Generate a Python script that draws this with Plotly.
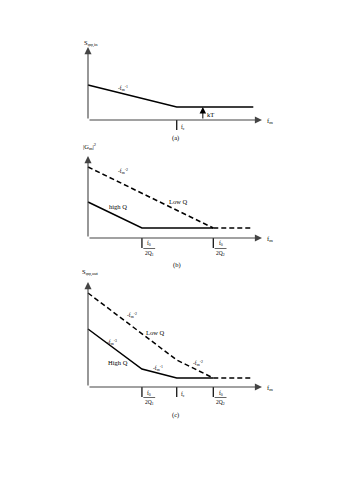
import plotly.graph_objects as go

# ---- data (x: frequency position in arbitrary units, axis 0..100; y: level in arbitrary units) ----
# panel (a): S_phiphi,in
a_x = [0, 51, 95]
a_y = [35, 13, 13]
a_kT_x = 66
a_fc = 51

# panel (b): |G_m|^2
b_low_x = [0, 72]
b_low_y = [71, 10]
b_low_flat_x = [72, 95]
b_low_flat_y = [10, 10]
b_high_x = [0, 31, 72]
b_high_y = [36, 10, 10]
b_ticks = [31, 72]

# panel (c): S_phiphi,out
c_low_x = [0, 51, 72]
c_low_y = [94, 27, 9]
c_low_flat_x = [72, 95]
c_low_flat_y = [9, 9]
c_high_x = [0, 31, 51, 72]
c_high_y = [58, 18, 9, 9]
c_ticks = [31, 51, 72]

W, H = 339, 480
X0, X1 = 88, 262   # pixel span of x axis 0..100
ux = (X1 - X0) / 100.0
xr = [(0 - X0) / ux, (W - X0) / ux]

# panel layout: (axis pixel row, top px, bottom px, axis top units)
panels = {
    "a": dict(axis=120, top=0, bot=145, ytop=73),
    "b": dict(axis=238, top=145, bot=268, ytop=82),
    "c": dict(axis=387, top=268, bot=480, ytop=105),
}

fig = go.Figure()
layout = dict(width=W, height=H, margin=dict(l=0, r=0, t=0, b=0),
              paper_bgcolor="white", plot_bgcolor="white", showlegend=False)

names = ["a", "b", "c"]
for i, n in enumerate(names):
    p = panels[n]
    sx = "" if i == 0 else str(i + 1)
    yr = [p["axis"] - p["bot"], p["axis"] - p["top"]]
    layout["xaxis" + sx] = dict(domain=[0, 1], range=xr, visible=False, fixedrange=True,
                                anchor="y" + sx)
    layout["yaxis" + sx] = dict(domain=[1 - p["bot"] / H, 1 - p["top"] / H], range=yr,
                                visible=False, fixedrange=True, anchor="x" + sx)
fig.update_layout(**layout)

FONT = dict(family="Liberation Serif", size=6.5, color="black")
solid = dict(color="black", width=1.5)
dashed = dict(color="black", width=1.5, dash="5px,3px")

def tr(x, y, line, k):
    sx = "" if k == 0 else str(k + 1)
    fig.add_trace(go.Scatter(x=x, y=y, mode="lines", line=line, hoverinfo="skip",
                             cliponaxis=False, xaxis="x" + sx, yaxis="y" + sx))

tr(a_x, a_y, solid, 0)
tr(b_low_x, b_low_y, dashed, 1)
tr(b_low_flat_x, b_low_flat_y, dashed, 1)
tr(b_high_x, b_high_y, solid, 1)
tr(c_low_x, c_low_y, dashed, 2)
tr(c_low_flat_x, c_low_flat_y, dashed, 2)
tr(c_high_x, c_high_y, solid, 2)

ann = []
shapes = []

def axref(k):
    sx = "" if k == 0 else str(k + 1)
    return "x" + sx, "y" + sx

def arrow(k, x, y, ax, ay, color="#444", width=1.1):
    xr_, yr_ = axref(k)
    ann.append(dict(x=x, y=y, ax=ax, ay=ay, xref=xr_, yref=yr_, axref=xr_, ayref=yr_,
                    text="", showarrow=True, arrowhead=2, arrowsize=1.3, arrowwidth=width,
                    arrowcolor=color, standoff=0, startstandoff=0))

def txt(k, x, y, s, xanchor="center", size=None):
    xr_, yr_ = axref(k)
    f = dict(FONT)
    if size:
        f["size"] = size
    ann.append(dict(x=x, y=y, xref=xr_, yref=yr_, text=s, showarrow=False,
                    font=f, xanchor=xanchor, yanchor="middle"))

def line(k, x0, y0, x1, y1, width=1.2, color="black"):
    xr_, yr_ = axref(k)
    shapes.append(dict(type="line", xref=xr_, yref=yr_, x0=x0, y0=y0, x1=x1, y1=y1,
                       line=dict(color=color, width=width)))

def frac(k, x, num, den):
    line(k, x + 0.8, -10.5, x + 7.6, -10.5, width=0.6)
    txt(k, x + 4.2, -6, num, size=5.5)
    txt(k, x + 4.2, -15.5, den, size=5.5)

for k, n in enumerate(names):
    p = panels[n]
    arrow(k, 100, 0, 0, 0)          # x axis
    arrow(k, 0, p["ytop"], 0, 0)    # y axis
    txt(k, 101.5, -1, "f<sub>m</sub>", xanchor="left")

# panel (a)
txt(0, 1.5, 77, "S<sub>φφ,in</sub>")
txt(0, 20, 32, "-f<sub>m</sub><sup>-1</sup>", size=5.5)
line(0, a_fc, 0, a_fc, -10)
txt(0, a_fc + 1.5, -7, "f<sub>c</sub>", xanchor="left", size=5.5)
arrow(0, a_kT_x, a_y[-1], a_kT_x, 0, color="black", width=1)
txt(0, a_kT_x + 1.5, 6, "kT", xanchor="left")
txt(0, 50.5, -18, "(a)")

# panel (b)
txt(1, 1, 91, "|G<sub>m</sub>|<sup>2</sup>")
txt(1, 20, 66, "-f<sub>m</sub><sup>-2</sup>", size=5.5)
txt(1, 52, 36, "Low Q")
txt(1, 17, 31, "high Q")
for t in b_ticks:
    line(1, t, 0, t, -10)
frac(1, b_ticks[0], "f<sub>0</sub>", "2Q<sub>1</sub>")
frac(1, b_ticks[1], "f<sub>0</sub>", "2Q<sub>2</sub>")
txt(1, 51, -27, "(b)")

# panel (c)
txt(2, 1.5, 115, "S<sub>φφ,out</sub>")
txt(2, 25.5, 72, "-f<sub>m</sub><sup>-2</sup>", size=5.5)
txt(2, 39, 55, "Low Q")
txt(2, 14, 45, "-f<sub>m</sub><sup>-3</sup>", size=5.5)
txt(2, 17, 25, "High Q")
txt(2, 40, 19, "-f<sub>m</sub><sup>-1</sup>", size=5.5)
txt(2, 63, 24, "-f<sub>m</sub><sup>-2</sup>", size=5.5)
for t in c_ticks:
    line(2, t, 0, t, -10)
frac(2, c_ticks[0], "f<sub>0</sub>", "2Q<sub>1</sub>")
txt(2, c_ticks[1] + 1.5, -7, "f<sub>c</sub>", xanchor="left", size=5.5)
frac(2, c_ticks[2], "f<sub>0</sub>", "2Q<sub>2</sub>")
txt(2, 50.5, -28, "(c)")

fig.update_layout(annotations=ann, shapes=shapes)
fig.write_html("out.html")
